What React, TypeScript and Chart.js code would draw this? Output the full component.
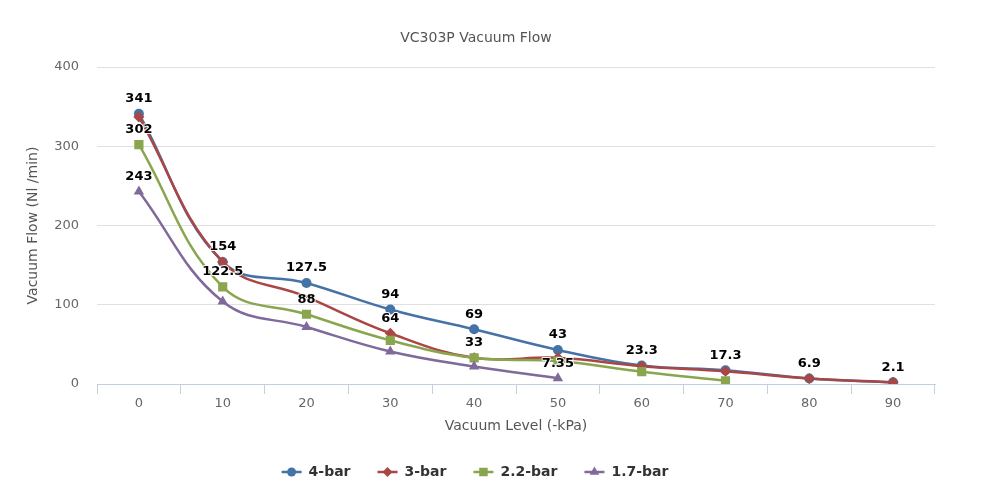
import React, { useEffect, useRef } from 'react';
import { Chart, registerables } from 'chart.js';

Chart.register(...registerables);

const FONT = '"DejaVu Sans", sans-serif';

const chartTitle = 'VC303P Vacuum Flow';
const xTitle = 'Vacuum Level (-kPa)';
const yTitle = 'Vacuum Flow (Nl /min)';

const categories = ['0', '10', '20', '30', '40', '50', '60', '70', '80', '90'];

const seriesNames = ['4-bar', '3-bar', '2.2-bar', '1.7-bar'];
const bar4 = [341, 154, 127.5, 94, 69, 43, 23.3, 17.3, 6.9, 2.1];
const bar3 = [337, 154, 110, 64, 33, 33, 22.5, 16, 6.9, 2.1];
// the 3-bar point at 20 kPa shows no marker in the original
const bar3HiddenMarkers = [2];
const bar22 = [302, 122.5, 88, 55, 33, 29, 15.5, 4];
const bar17 = [243, 104, 72, 41, 22, 7.35];

const yMin = 0;
const yMax = 400;
const yStep = 100;

const colors = ['#4572A7', '#AA4643', '#89A54E', '#80699B'];
const markers = ['circle', 'rectRot', 'rect', 'triangle'];
const markerRadius = [5, 5.5, 6.5, 6];

function drawMarker(ctx: CanvasRenderingContext2D, style: string, x: number, y: number, r: number, color: string) {
  ctx.save();
  ctx.fillStyle = color;
  ctx.beginPath();
  if (style === 'circle') {
    ctx.arc(x, y, r, 0, Math.PI * 2);
  } else if (style === 'rectRot') {
    ctx.moveTo(x, y - r);
    ctx.lineTo(x + r, y);
    ctx.lineTo(x, y + r);
    ctx.lineTo(x - r, y);
    ctx.closePath();
  } else if (style === 'rect') {
    const s = r * Math.SQRT1_2;
    ctx.rect(x - s, y - s, 2 * s, 2 * s);
  } else {
    let rad = 0;
    ctx.moveTo(x + Math.sin(rad) * r, y - Math.cos(rad) * r);
    rad += (2 * Math.PI) / 3;
    ctx.lineTo(x + Math.sin(rad) * r, y - Math.cos(rad) * r);
    rad += (2 * Math.PI) / 3;
    ctx.lineTo(x + Math.sin(rad) * r, y - Math.cos(rad) * r);
    ctx.closePath();
  }
  ctx.fill();
  ctx.restore();
}

const extrasPlugin = {
  id: 'extras',
  afterDatasetsDraw(chart: any) {
    const ctx: CanvasRenderingContext2D = chart.ctx;
    ctx.save();
    // data labels with overlap removal
    ctx.font = `bold 13px ${FONT}`;
    const cands: any[] = [];
    chart.data.datasets.forEach((ds: any, di: number) => {
      const meta = chart.getDatasetMeta(di);
      ds.data.forEach((v: any, i: number) => {
        if (v === null || v === undefined) return;
        const el = meta.data[i];
        if (!el) return;
        const text = String(v);
        const w = ctx.measureText(text).width;
        cands.push({ x: el.x, y: el.y - 15, text, w, v, di });
      });
    });
    cands.sort((a, b) => b.v - a.v || a.di - b.di);
    const placed: any[] = [];
    ctx.textAlign = 'center';
    ctx.textBaseline = 'middle';
    ctx.lineJoin = 'round';
    for (const c of cands) {
      const box = { l: c.x - c.w / 2 - 3, r: c.x + c.w / 2 + 3, t: c.y - 11, b: c.y + 11 };
      if (placed.some((p) => box.l < p.r && box.r > p.l && box.t < p.b && box.b > p.t)) continue;
      placed.push(box);
      ctx.strokeStyle = 'rgba(255,255,255,0.9)';
      ctx.lineWidth = 2;
      ctx.strokeText(c.text, c.x, c.y);
      ctx.fillStyle = '#000000';
      ctx.fillText(c.text, c.x, c.y);
    }
    ctx.restore();
  },
  afterDraw(chart: any) {
    const ctx: CanvasRenderingContext2D = chart.ctx;
    ctx.save();
    // title
    ctx.font = `14px ${FONT}`;
    ctx.fillStyle = '#555555';
    ctx.textAlign = 'center';
    ctx.textBaseline = 'middle';
    ctx.fillText(chartTitle, 476, 38);

    // legend
    ctx.font = `bold 14px ${FONT}`;
    const symW = 20;
    const gapText = 7;
    const gapItem = 27;
    const widths = seriesNames.map((n) => ctx.measureText(n).width);
    const total = widths.reduce((a, w) => a + symW + gapText + w, 0) + gapItem * (seriesNames.length - 1);
    let x = 475 - total / 2;
    const ly = 472;
    seriesNames.forEach((name, i) => {
      ctx.strokeStyle = colors[i];
      ctx.lineWidth = 2.5;
      ctx.beginPath();
      ctx.moveTo(x, ly);
      ctx.lineTo(x + symW, ly);
      ctx.stroke();
      drawMarker(ctx, markers[i], x + symW / 2, ly, markerRadius[i] - 0.5, colors[i]);
      ctx.fillStyle = '#333333';
      ctx.textAlign = 'left';
      ctx.textBaseline = 'middle';
      ctx.fillText(name, x + symW + gapText, ly);
      x += symW + gapText + widths[i] + gapItem;
    });
    ctx.restore();
  },
};

export default function App() {
  const ref = useRef<HTMLCanvasElement | null>(null);

  useEffect(() => {
    document.body.style.margin = '0';
    const canvas = ref.current;
    if (!canvas) return;
    const seriesData = [bar4, bar3, bar22, bar17];
    const chart = new Chart(canvas, {
      type: 'line',
      data: {
        labels: categories,
        datasets: seriesData.map((d, i) => ({
          label: seriesNames[i],
          data: d,
          borderColor: colors[i],
          backgroundColor: colors[i],
          borderWidth: 2.5,
          pointStyle: markers[i] as any,
          pointRadius:
            i === 1
              ? d.map((_, k) => (bar3HiddenMarkers.includes(k) ? 0 : markerRadius[i]))
              : markerRadius[i],
          pointBackgroundColor: colors[i],
          pointBorderColor: colors[i],
          pointBorderWidth: 0,
          tension: 0.4,
          spanGaps: true,
          fill: false,
          order: 3 - i,
        })),
      },
      options: {
        animation: false,
        responsive: false,
        maintainAspectRatio: false,
        events: [],
        layout: { padding: { left: 0, right: 51, top: 67, bottom: 58 } },
        plugins: {
          legend: { display: false },
          title: { display: false },
          tooltip: { enabled: false },
        },
        scales: {
          x: {
            type: 'category',
            offset: true,
            grid: {
              offset: true,
              drawOnChartArea: false,
              drawTicks: true,
              tickLength: 10,
              color: '#C0D0E0',
            },
            border: { color: '#C0D0E0', width: 1 },
            ticks: {
              color: '#666666',
              font: { family: FONT, size: 13 },
              padding: 2,
              maxRotation: 0,
              autoSkip: false,
            },
            title: {
              display: true,
              text: xTitle,
              color: '#555555',
              font: { family: FONT, size: 14 },
              padding: { top: 0, bottom: 9 },
            },
            afterFit: (s: any) => {
              s.height = 60;
            },
          },
          y: {
            min: yMin,
            max: yMax,
            ticks: {
              stepSize: yStep,
              color: '#666666',
              font: { family: FONT, size: 13 },
              padding: 18,
            },
            grid: { color: '#E0E0E0', drawTicks: false },
            border: { display: false },
            title: {
              display: true,
              text: yTitle,
              color: '#555555',
              font: { family: FONT, size: 14 },
              padding: { top: 25, bottom: 0 },
            },
            afterFit: (s: any) => {
              s.width = 97;
            },
          },
        },
      },
      plugins: [extrasPlugin],
    } as any);
    return () => chart.destroy();
  }, []);

  return (
    <div style={{ width: 986, height: 502 }}>
      <canvas ref={ref} width={986} height={502} style={{ display: 'block', width: 986, height: 502 }} />
    </div>
  );
}
